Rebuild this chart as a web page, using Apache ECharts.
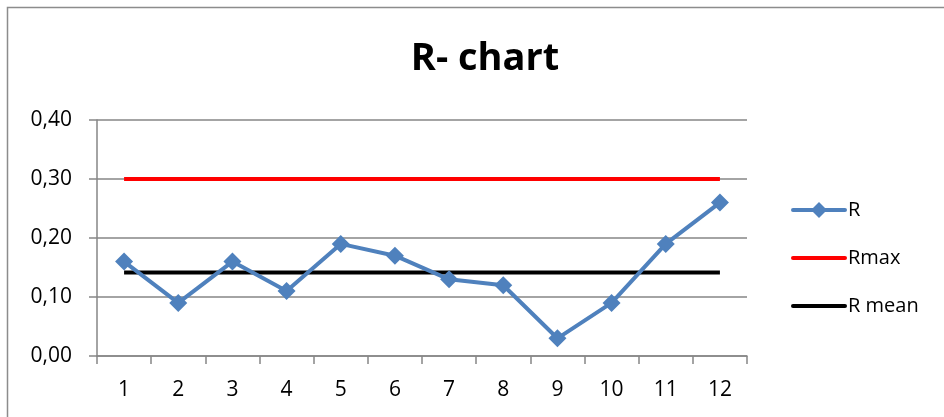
<!DOCTYPE html>
<html><head><meta charset="utf-8">
<script src="https://cdn.jsdelivr.net/npm/echarts@6/dist/echarts.min.js"></script>
<style>html,body{margin:0;padding:0;background:#fff}#c{width:944px;height:417px}</style>
</head><body><div id="c"></div>
<script>
var categories = ['1','2','3','4','5','6','7','8','9','10','11','12'];
var rValues = [0.16, 0.09, 0.16, 0.11, 0.19, 0.17, 0.13, 0.12, 0.03, 0.09, 0.19, 0.26];
var rMax = [0.30, 0.30, 0.30, 0.30, 0.30, 0.30, 0.30, 0.30, 0.30, 0.30, 0.30, 0.30];
var rMean = [0.1417, 0.1417, 0.1417, 0.1417, 0.1417, 0.1417, 0.1417, 0.1417, 0.1417, 0.1417, 0.1417, 0.1417];
var yTicks = [0, 0.1, 0.2, 0.3, 0.4];

var FONT = '"Open Sans", sans-serif';
var ICON_LINE_DIAMOND = 'path://M2,6 L54,6 A2,2 0 0 1 54,10 L2,10 A2,2 0 0 1 2,6 Z M28,0 L36,8 L28,16 L20,8 Z';
var ICON_LINE = 'path://M0,0 L0,0 M0,16 L0,16 M2,6 L54,6 A2,2 0 0 1 54,10 L2,10 A2,2 0 0 1 2,6 Z M56,0 L56,0 M56,16 L56,16';

var chart = echarts.init(document.getElementById('c'));
chart.setOption({
  animation: false,
  backgroundColor: '#fff',
  graphic: [{
    type: 'rect', shape: {x: 7.5, y: 7.5, width: 1000, height: 1000},
    style: {fill: 'none', stroke: '#8c8c8c', lineWidth: 1.5}, silent: true
  }],
  title: {
    text: 'R- chart', left: 480, top: 35, textAlign: 'center',
    textStyle: {fontFamily: FONT, fontWeight: 'bold', fontSize: 38, color: '#000'}
  },
  legend: {
    orient: 'vertical', left: 786, top: 195, itemWidth: 56, itemHeight: 16, itemGap: 28,
    textStyle: {fontFamily: FONT, fontSize: 20, color: '#000', padding: [0,0,0,-4]},
    itemStyle: {borderWidth: 0},
    data: [
      {name: 'R', icon: ICON_LINE_DIAMOND},
      {name: 'Rmax', icon: ICON_LINE},
      {name: 'R mean', icon: ICON_LINE}
    ]
  },
  grid: {left: 97, top: 120, right: 197, bottom: 61, containLabel: false},
  xAxis: {
    type: 'category', data: categories, boundaryGap: true,
    axisLine: {lineStyle: {color: '#868686', width: 1.5}},
    axisTick: {show: true, length: 8, interval: 0, lineStyle: {color: '#868686', width: 1.5}},
    axisLabel: {fontFamily: FONT, fontSize: 21, color: '#000', margin: 24, interval: 0}
  },
  yAxis: {
    type: 'value', min: 0, max: 0.4, interval: 0.1,
    axisLine: {show: true, lineStyle: {color: '#868686', width: 1.5}},
    axisTick: {show: true, length: 8, lineStyle: {color: '#868686', width: 1.5}},
    splitLine: {lineStyle: {color: '#868686', width: 1.5}},
    axisLabel: {
      fontFamily: FONT, fontSize: 21, color: '#000', margin: 25,
      formatter: function (v) { return v.toFixed(2).replace('.', ','); }
    }
  },
  series: [
    {name: 'Rmax', type: 'line', data: rMax, symbol: 'none', z: 2,
     lineStyle: {color: '#ff0000', width: 4}, itemStyle: {color: '#ff0000'}},
    {name: 'R mean', type: 'line', data: rMean, symbol: 'none', z: 2,
     lineStyle: {color: '#000000', width: 4}, itemStyle: {color: '#000000'}},
    {name: 'R', type: 'line', data: rValues, symbol: 'diamond', symbolSize: 18, z: 3,
     lineStyle: {color: '#4f81bd', width: 4}, itemStyle: {color: '#4f81bd'}}
  ]
});
</script></body></html>
